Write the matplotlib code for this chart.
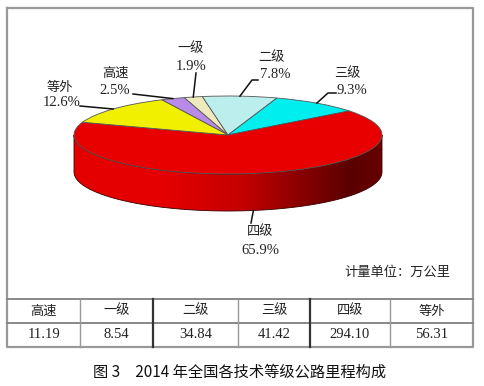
import numpy as np
import matplotlib
matplotlib.use("Agg")
import matplotlib.pyplot as plt
from matplotlib.patches import Polygon
from matplotlib.colors import LinearSegmentedColormap

# ---- data ----
categories = ["高速", "一级", "二级", "三级", "四级", "等外"]
values = [11.19, 8.54, 34.84, 41.42, 294.10, 56.31]
colors = ["#b98be8", "#eeeabd", "#bdeeee", "#00eeee", "#e80000", "#f0f000"]
unit_text = "计量单位：万公里"
caption = "图 3\u30002014 年全国各技术等级公路里程构成"

W, H = 485, 386
fig = plt.figure(figsize=(W / 100, H / 100), dpi=100)

# pie geometry (pixels)
cx, cy, a, b, depth = 228, 135, 154, 39, 37
d = depth / b

ax = fig.add_axes([0, 0, 1, 1])
wedges, _ = ax.pie(values, colors=colors, startangle=115.5, counterclock=False,
                   radius=1, center=(0, 0),
                   wedgeprops=dict(edgecolor="#555555", linewidth=0.6, zorder=3))
ax.set_aspect("auto")
xlim = (-cx / a, (W - cx) / a)
ylim = ((cy - H) / b, cy / b)

# side of the cylinder
t = np.linspace(np.pi, 2 * np.pi, 200)
top = np.column_stack([np.cos(t), np.sin(t)])
bot = np.column_stack([np.cos(t[::-1]), np.sin(t[::-1]) - d])
poly = Polygon(np.vstack([top, bot]), closed=True, facecolor="none",
               edgecolor="#3a0000", linewidth=0.6, zorder=2)
ax.add_patch(poly)
cmap = LinearSegmentedColormap.from_list(
    "side", [(0, "#e60000"), (0.3, "#e40000"), (0.55, "#c40000"),
             (0.75, "#850000"), (0.9, "#5a0000"), (1.0, "#680000")])
grad = np.linspace(0, 1, 256).reshape(1, -1)
im = ax.imshow(grad, extent=[-1, 1, -1 - d, 0.05], cmap=cmap, aspect="auto",
               zorder=1, interpolation="bilinear")
im.set_clip_path(poly)
ax.set_xlim(*xlim)
ax.set_ylim(*ylim)
ax.axis("off")

# overlay axes in pixel coordinates
ov = fig.add_axes([0, 0, 1, 1], facecolor="none")
ov.set_xlim(0, W)
ov.set_ylim(H, 0)
ov.axis("off")

def to_px(x, y):
    p = ax.transData.transform((x, y))
    return ov.transData.inverted().transform(p)

cjk = ["Noto Sans CJK SC", "DejaVu Sans"]
serif = ["Liberation Serif", "Noto Sans CJK SC"]

total = sum(values)
# label layout: (name line center), (pct line center), leader start points
label_layout = {
    "高速": ((115, 73), (115, 91), [(133, 94)]),
    "一级": ((191, 49), (191, 66), [(196, 73)]),
    "二级": ((272, 58), (275, 75), [(258, 80), (252, 80)]),
    "三级": ((347, 74), (352, 90), [(336, 93), (328, 93)]),
    "四级": ((260, 232), (260, 250), [(251, 223)]),
    "等外": ((60, 87), (62, 102), [(80, 106)]),
}
for w, cat, v in zip(wedges, categories, values):
    mid = np.deg2rad((w.theta1 + w.theta2) / 2)
    mx, my = np.cos(mid), np.sin(mid)
    if my < 0:
        my -= d
    anchor = to_px(mx, my)
    (nx, ny), (px, py), pts = label_layout[cat]
    line = np.array(pts + [tuple(anchor)])
    ov.plot(line[:, 0], line[:, 1], color="#111111", lw=1.1, zorder=5)
    ov.text(nx, ny, cat, family=cjk, fontsize=9.5, ha="center", va="center", color="#222222")
    ov.text(px, py, f"{v / total * 100:.1f}%", family=serif, fontsize=10.5,
            ha="center", va="center", color="#222222")

ov.text(450, 272, unit_text, family=cjk, fontsize=9.5, ha="right", va="center", color="#222222")

# frame and table
L, R, T, B = 7.5, 473, 7.5, 347
row1, row2 = 299, 323
ov.plot([L, R, R, L, L], [T, T, B, B, T], color="#999999", lw=1.6, zorder=6)
ov.plot([L, R], [row1, row1], color="#888888", lw=1.4, zorder=6)
ov.plot([L, R], [row2, row2], color="#888888", lw=1.4, zorder=6)
col_edges = [L, 80, 153, 238, 310, 390, R]
dark_cols = {153, 310}
for xe in col_edges[1:-1]:
    if xe in dark_cols:
        ov.plot([xe, xe], [row1, B], color="#333333", lw=1.6, zorder=6)
    else:
        ov.plot([xe, xe], [row1, B], color="#999999", lw=1.0, zorder=6)
for i, (cat, v) in enumerate(zip(categories, values)):
    xc = (col_edges[i] + col_edges[i + 1]) / 2
    ov.text(xc, (row1 + row2) / 2, cat, family=cjk, fontsize=9.5, ha="center",
            va="center", color="#222222")
    ov.text(xc, (row2 + B) / 2, f"{v:.2f}", family=serif, fontsize=10.5, ha="center",
            va="center", color="#222222")

ov.text(240, 372, caption, family=cjk, fontsize=11, ha="center", va="center", color="#111111")

fig.savefig("out.png", dpi=100)
